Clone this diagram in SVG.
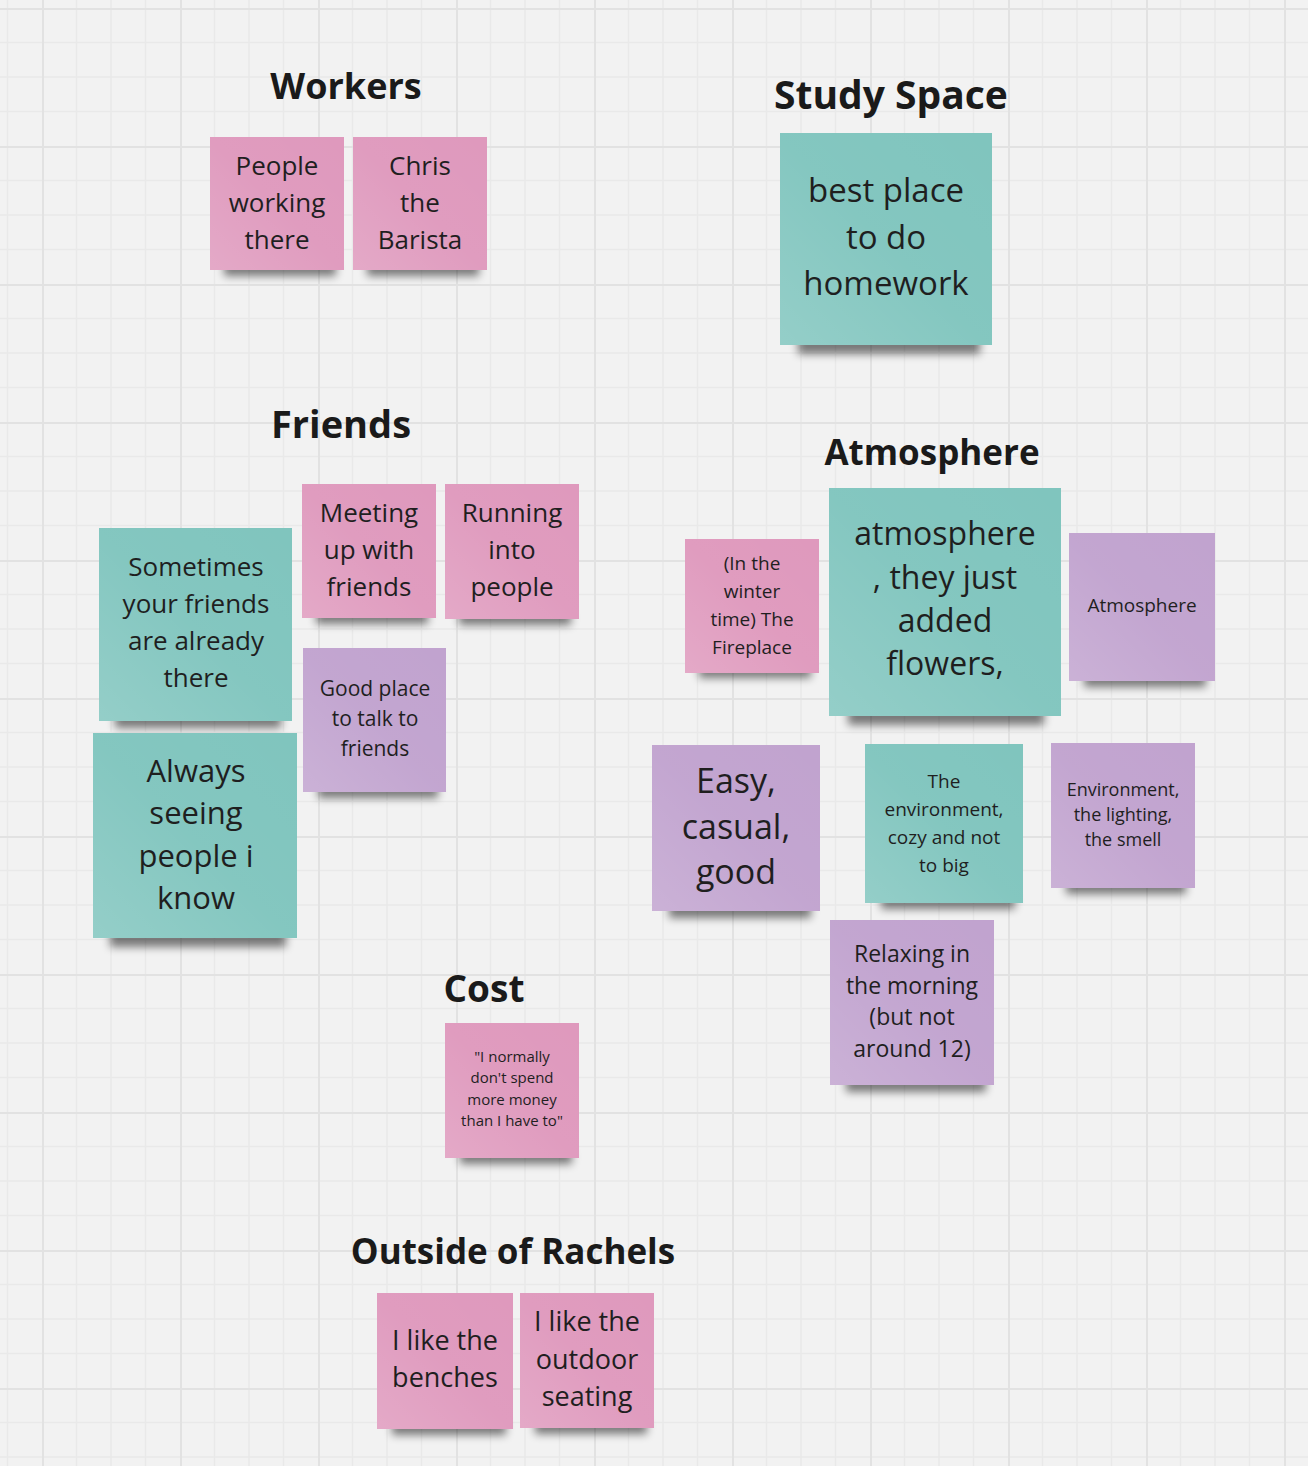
<svg xmlns="http://www.w3.org/2000/svg" width="1308" height="1466" viewBox="0 0 1308 1466">
<defs>
<pattern id="grid" x="42" y="8" width="138" height="138" patternUnits="userSpaceOnUse">
<path d="M34.5 0V138M69 0V138M103.5 0V138M0 34.5H138M0 69H138M0 103.5H138" stroke="#e9e9e9" stroke-width="1.5" fill="none"/>
<path d="M0.75 0V138M0 0.75H138" stroke="#e2e2e2" stroke-width="2.5" fill="none"/>
</pattern>
<filter id="blur" x="-20%" y="-100%" width="140%" height="300%"><feGaussianBlur stdDeviation="4"/></filter>
<linearGradient id="sheen" x1="1" y1="0" x2="0" y2="1">
<stop offset="0" stop-color="#ffffff" stop-opacity="0"/>
<stop offset="0.5" stop-color="#ffffff" stop-opacity="0.03"/>
<stop offset="1" stop-color="#ffffff" stop-opacity="0.16"/>
</linearGradient>
<style>
.h{font-family:"Open Sans","Noto Sans","Liberation Sans",sans-serif;font-weight:700;fill:#1a1a1a;text-anchor:middle}
.t{font-family:"Open Sans","Noto Sans","Liberation Sans",sans-serif;fill:#1f1f1f;text-anchor:middle}
.pink{fill:#df99bd}
.teal{fill:#80c5be}
.purple{fill:#c1a3cf}
.sh{fill:#000;opacity:0.5;filter:url(#blur)}
.gl{fill:url(#sheen)}
</style>
</defs>
<rect width="1308" height="1466" fill="#f2f2f2"/>
<rect width="1308" height="1466" fill="url(#grid)"/>

<g id="heading-workers"><text class="h" x="346" y="99" font-size="36">Workers</text></g>
<g id="heading-study"><text class="h" x="891" y="109" font-size="39">Study Space</text></g>
<g id="heading-friends"><text class="h" x="341" y="438" font-size="38">Friends</text></g>
<g id="heading-atmosphere"><text class="h" x="932" y="465" font-size="35">Atmosphere</text></g>
<g id="heading-cost"><text class="h" x="484" y="1002" font-size="37">Cost</text></g>
<g id="heading-outside"><text class="h" x="513" y="1264" font-size="35">Outside of Rachels</text></g>

<g id="n-people">
<rect class="sh" x="224" y="262" width="112" height="14"/>
<rect class="pink" x="210" y="137" width="134" height="133"/><rect class="gl" x="210" y="137" width="134" height="133"/>
<text class="t" font-size="26" x="277"><tspan x="277" y="175">People</tspan><tspan x="277" y="212">working</tspan><tspan x="277" y="249">there</tspan></text>
</g>
<g id="n-chris">
<rect class="sh" x="367" y="262" width="112" height="14"/>
<rect class="pink" x="353" y="137" width="134" height="133"/><rect class="gl" x="353" y="137" width="134" height="133"/>
<text class="t" font-size="26" x="420"><tspan x="420" y="175">Chris</tspan><tspan x="420" y="212">the</tspan><tspan x="420" y="249">Barista</tspan></text>
</g>
<g id="n-homework">
<rect class="sh" x="798" y="336" width="182" height="18"/>
<rect class="teal" x="780" y="133" width="212" height="212"/><rect class="gl" x="780" y="133" width="212" height="212"/>
<text class="t" font-size="33" x="886"><tspan x="886" y="202">best place</tspan><tspan x="886" y="249">to do</tspan><tspan x="886" y="295">homework</tspan></text>
</g>
<g id="n-meeting">
<rect class="sh" x="316" y="610" width="112" height="14"/>
<rect class="pink" x="302" y="484" width="134" height="134"/><rect class="gl" x="302" y="484" width="134" height="134"/>
<text class="t" font-size="26" x="369"><tspan x="369" y="522">Meeting</tspan><tspan x="369" y="559">up with</tspan><tspan x="369" y="596">friends</tspan></text>
</g>
<g id="n-running">
<rect class="sh" x="459" y="611" width="112" height="14"/>
<rect class="pink" x="445" y="484" width="134" height="135"/><rect class="gl" x="445" y="484" width="134" height="135"/>
<text class="t" font-size="26" x="512"><tspan x="512" y="522">Running</tspan><tspan x="512" y="559">into</tspan><tspan x="512" y="596">people</tspan></text>
</g>
<g id="n-sometimes">
<rect class="sh" x="115" y="712" width="166" height="16"/>
<rect class="teal" x="99" y="528" width="193" height="193"/><rect class="gl" x="99" y="528" width="193" height="193"/>
<text class="t" font-size="26" x="196"><tspan x="196" y="576">Sometimes</tspan><tspan x="196" y="613">your friends</tspan><tspan x="196" y="650">are already</tspan><tspan x="196" y="687">there</tspan></text>
</g>
<g id="n-goodplace">
<rect class="sh" x="318" y="784" width="120" height="14"/>
<rect class="purple" x="303" y="648" width="143" height="144"/><rect class="gl" x="303" y="648" width="143" height="144"/>
<text class="t" font-size="21" x="375"><tspan x="375" y="696">Good place</tspan><tspan x="375" y="726">to talk to</tspan><tspan x="375" y="756">friends</tspan></text>
</g>
<g id="n-always">
<rect class="sh" x="110" y="929" width="176" height="18"/>
<rect class="teal" x="93" y="733" width="204" height="205"/><rect class="gl" x="93" y="733" width="204" height="205"/>
<text class="t" font-size="31" x="196"><tspan x="196" y="782">Always</tspan><tspan x="196" y="824">seeing</tspan><tspan x="196" y="867">people i</tspan><tspan x="196" y="909">know</tspan></text>
</g>
<g id="n-fireplace">
<rect class="sh" x="699" y="665" width="112" height="13"/>
<rect class="pink" x="685" y="539" width="134" height="134"/><rect class="gl" x="685" y="539" width="134" height="134"/>
<text class="t" font-size="19" x="752"><tspan x="752" y="570">(In the</tspan><tspan x="752" y="598">winter</tspan><tspan x="752" y="626">time) The</tspan><tspan x="752" y="654">Fireplace</tspan></text>
</g>
<g id="n-flowers">
<rect class="sh" x="848" y="707" width="196" height="18"/>
<rect class="teal" x="829" y="488" width="232" height="228"/><rect class="gl" x="829" y="488" width="232" height="228"/>
<text class="t" font-size="32" x="945"><tspan x="945" y="545">atmosphere</tspan><tspan x="945" y="589">, they just</tspan><tspan x="945" y="632">added</tspan><tspan x="945" y="675">flowers,</tspan></text>
</g>
<g id="n-atmosphere">
<rect class="sh" x="1084" y="673" width="122" height="14"/>
<rect class="purple" x="1069" y="533" width="146" height="148"/><rect class="gl" x="1069" y="533" width="146" height="148"/>
<text class="t" font-size="19" x="1142" y="612">Atmosphere</text>
</g>
<g id="n-easy">
<rect class="sh" x="669" y="902" width="142" height="16"/>
<rect class="purple" x="652" y="745" width="168" height="166"/><rect class="gl" x="652" y="745" width="168" height="166"/>
<text class="t" font-size="34" x="736"><tspan x="736" y="793">Easy,</tspan><tspan x="736" y="839">casual,</tspan><tspan x="736" y="884">good</tspan></text>
</g>
<g id="n-environment">
<rect class="sh" x="881" y="895" width="134" height="14"/>
<rect class="teal" x="865" y="744" width="158" height="159"/><rect class="gl" x="865" y="744" width="158" height="159"/>
<text class="t" font-size="19" x="944"><tspan x="944" y="788">The</tspan><tspan x="944" y="816">environment,</tspan><tspan x="944" y="844">cozy and not</tspan><tspan x="944" y="872">to big</tspan></text>
</g>
<g id="n-lighting">
<rect class="sh" x="1066" y="880" width="120" height="14"/>
<rect class="purple" x="1051" y="743" width="144" height="145"/><rect class="gl" x="1051" y="743" width="144" height="145"/>
<text class="t" font-size="18" x="1123"><tspan x="1123" y="796">Environment,</tspan><tspan x="1123" y="821">the lighting,</tspan><tspan x="1123" y="846">the smell</tspan></text>
</g>
<g id="n-relaxing">
<rect class="sh" x="846" y="1077" width="140" height="15"/>
<rect class="purple" x="830" y="920" width="164" height="165"/><rect class="gl" x="830" y="920" width="164" height="165"/>
<text class="t" font-size="23" x="912"><tspan x="912" y="962">Relaxing in</tspan><tspan x="912" y="994">the morning</tspan><tspan x="912" y="1025">(but not</tspan><tspan x="912" y="1057">around 12)</tspan></text>
</g>
<g id="n-money">
<rect class="sh" x="460" y="1150" width="112" height="14"/>
<rect class="pink" x="445" y="1023" width="134" height="135"/><rect class="gl" x="445" y="1023" width="134" height="135"/>
<text class="t" font-size="15" x="512"><tspan x="512" y="1062">"I normally</tspan><tspan x="512" y="1083">don't spend</tspan><tspan x="512" y="1105">more money</tspan><tspan x="512" y="1126">than I have to"</tspan></text>
</g>
<g id="n-benches">
<rect class="sh" x="392" y="1421" width="114" height="14"/>
<rect class="pink" x="377" y="1293" width="136" height="136"/><rect class="gl" x="377" y="1293" width="136" height="136"/>
<text class="t" font-size="27" x="445"><tspan x="445" y="1350">I like the</tspan><tspan x="445" y="1387">benches</tspan></text>
</g>
<g id="n-outdoor">
<rect class="sh" x="535" y="1420" width="112" height="14"/>
<rect class="pink" x="520" y="1293" width="134" height="135"/><rect class="gl" x="520" y="1293" width="134" height="135"/>
<text class="t" font-size="27" x="587"><tspan x="587" y="1331">I like the</tspan><tspan x="587" y="1369">outdoor</tspan><tspan x="587" y="1406">seating</tspan></text>
</g>
<g id="connectors"/>
</svg>
